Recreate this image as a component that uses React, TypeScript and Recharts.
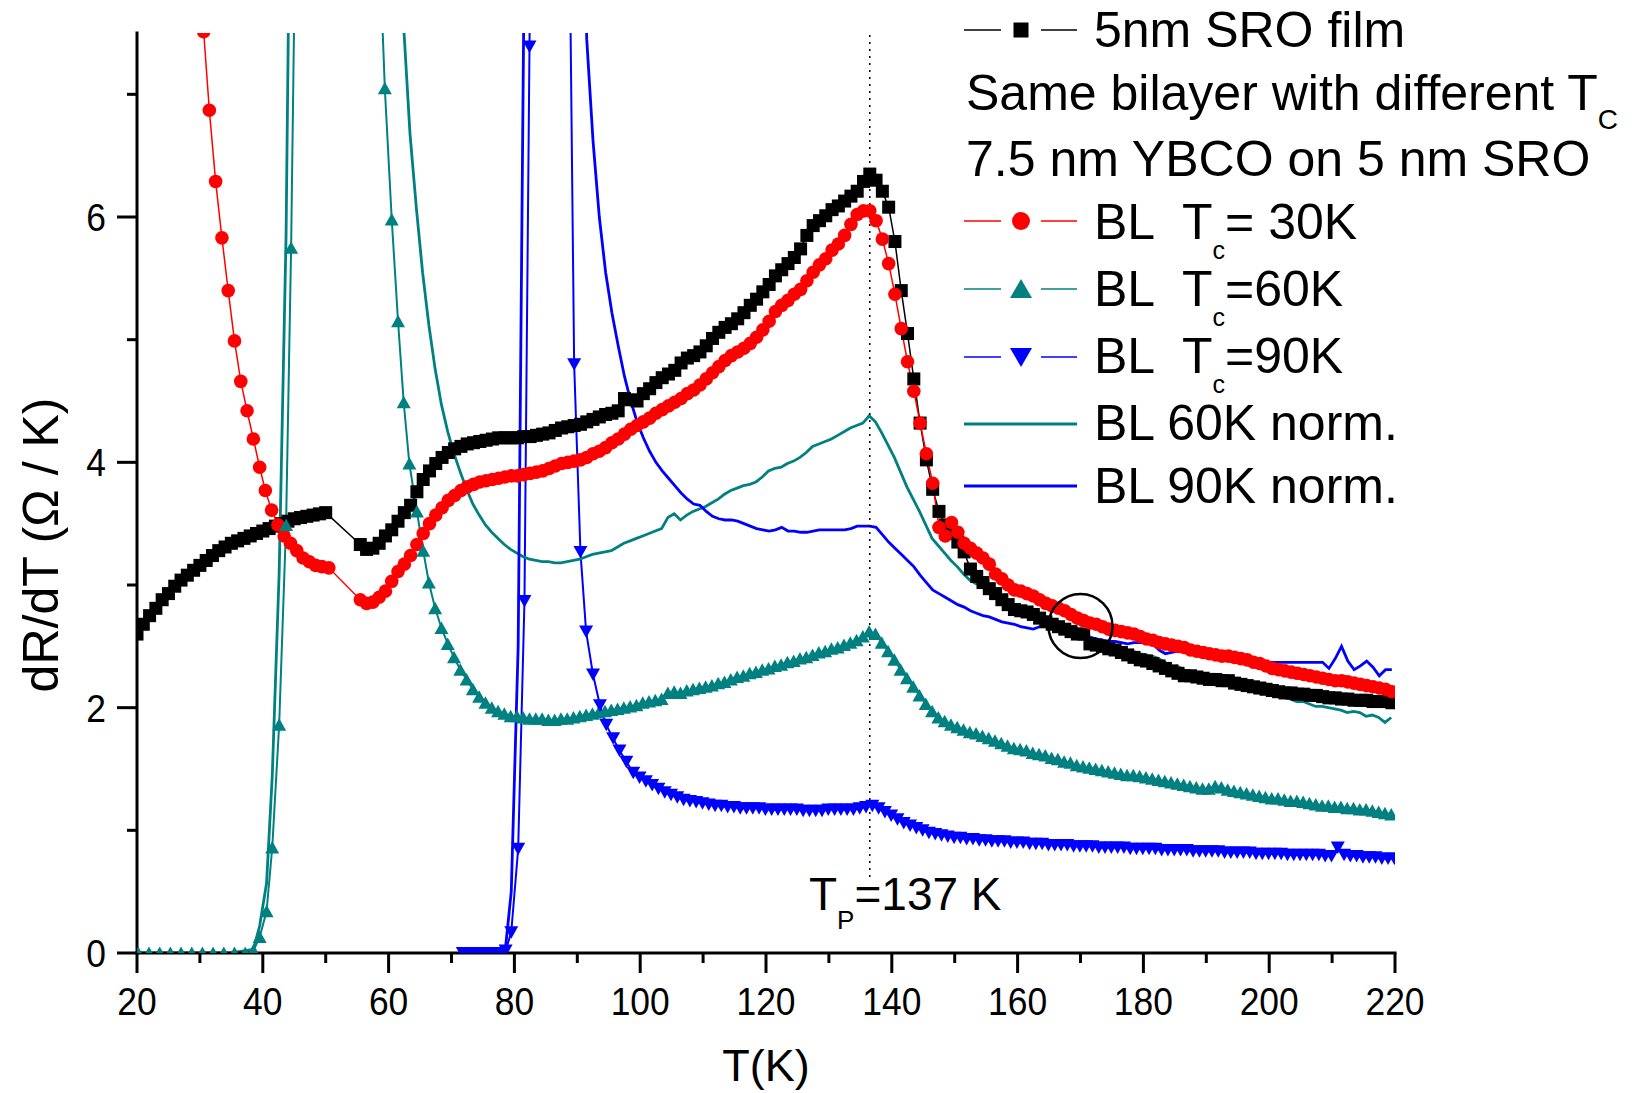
import React from 'react'
import { ComposedChart, Line, XAxis, YAxis, ReferenceLine, ReferenceDot } from 'recharts'

const FONT = "'Liberation Sans', Arial, Helvetica, sans-serif"

// axis ticks
const xTicks = [20, 30, 40, 50, 60, 70, 80, 90, 100, 110, 120, 130, 140, 150, 160, 170, 180, 190, 200, 210, 220]
const yTicks = [0, 1, 2, 3, 4, 5, 6, 7]

// 5nm SRO film (1 K steps)
const sroLowStart = 20
const sroLow = [
  2.6, 2.68, 2.75, 2.81, 2.88, 2.93, 2.99, 3.04, 3.08, 3.12,
  3.16, 3.2, 3.24, 3.28, 3.31, 3.34, 3.36, 3.38, 3.4, 3.42,
  3.44, 3.46, 3.48, 3.5, 3.52, 3.54, 3.55, 3.56, 3.57, 3.58, 3.59,
]
const sroHighStart = 55.5
const sroHigh = [
  3.33, 3.29, 3.3, 3.34, 3.4, 3.45, 3.52, 3.59, 3.65, 3.76,
  3.86, 3.93, 3.99, 4.04, 4.08, 4.11, 4.13, 4.15, 4.16, 4.17,
  4.18, 4.19, 4.2, 4.2, 4.2, 4.2, 4.21, 4.21, 4.22, 4.23,
  4.24, 4.26, 4.28, 4.29, 4.3, 4.31, 4.33, 4.35, 4.37, 4.39,
  4.4, 4.42, 4.52, 4.51, 4.5, 4.56, 4.6, 4.65, 4.69, 4.72,
  4.75, 4.81, 4.85, 4.87, 4.9, 4.95, 5.01, 5.06, 5.1, 5.13,
  5.17, 5.22, 5.28, 5.33, 5.39, 5.45, 5.52, 5.57, 5.62, 5.67,
  5.74, 5.85, 5.93, 5.97, 6.01, 6.06, 6.09, 6.13, 6.17, 6.21,
  6.29, 6.35, 6.3, 6.21, 6.08, 5.8, 5.4, 5.05, 4.68, 4.32,
  4.02, 3.78, 3.6, 3.49, 3.42, 3.35, 3.27, 3.13, 3.07, 3.02,
  2.97, 2.93, 2.88, 2.84, 2.8, 2.79, 2.78, 2.76, 2.73, 2.7,
  2.68, 2.66, 2.64, 2.62, 2.6, 2.6, 2.52, 2.51, 2.5, 2.48,
  2.47, 2.45, 2.43, 2.41, 2.39, 2.38, 2.36, 2.34, 2.32, 2.3,
  2.28, 2.26, 2.26, 2.25, 2.24, 2.23, 2.23, 2.22, 2.22, 2.2,
  2.19, 2.18, 2.17, 2.16, 2.15, 2.14, 2.13, 2.12, 2.12, 2.11,
  2.11, 2.1, 2.1, 2.09, 2.08, 2.08, 2.07, 2.07, 2.06, 2.06,
  2.06, 2.05, 2.05, 2.05, 2.04,
]

// BL Tc = 30K
const bl30LowT = [30.6, 31.5, 32.5, 33.5, 34.5, 35.5, 36.5, 37.5, 38.5, 39.5, 40.4, 41.4, 42.4, 43.4, 44.4, 45.4, 46.4, 47.4, 48.4, 49.4, 50.5]
const bl30Low = [7.51, 6.87, 6.29, 5.83, 5.4, 4.99, 4.66, 4.42, 4.19, 3.96, 3.77, 3.61, 3.49, 3.4, 3.34, 3.28, 3.22, 3.19, 3.16, 3.15, 3.14]
const bl30HighStart = 55.5
const bl30High = [
  2.88, 2.85, 2.86, 2.9, 2.95, 3.03, 3.11, 3.17, 3.24, 3.33,
  3.42, 3.5, 3.57, 3.63, 3.69, 3.73, 3.77, 3.8, 3.82, 3.84,
  3.85, 3.86, 3.87, 3.88, 3.89, 3.89, 3.9, 3.91, 3.92, 3.93,
  3.95, 3.97, 3.99, 4.0, 4.01, 4.02, 4.04, 4.07, 4.09, 4.12,
  4.16, 4.19, 4.23, 4.27, 4.3, 4.33, 4.36, 4.4, 4.43, 4.46,
  4.49, 4.52, 4.56, 4.59, 4.63, 4.68, 4.73, 4.78, 4.83, 4.87,
  4.9, 4.93, 4.97, 5.02, 5.08, 5.15, 5.23, 5.28, 5.32, 5.37,
  5.41, 5.48, 5.55, 5.61, 5.66, 5.73, 5.78, 5.85, 5.94, 6.02,
  6.05, 6.05, 5.97, 5.82, 5.62, 5.37, 5.09, 4.82, 4.58, 4.32,
  4.07, 3.83, 3.47, 3.4, 3.51, 3.43, 3.34, 3.3, 3.26, 3.22,
  3.17, 3.09, 3.05, 3.0, 2.96, 2.95, 2.93, 2.91, 2.88, 2.85,
  2.83, 2.81, 2.79, 2.76, 2.73, 2.71, 2.69, 2.68, 2.66, 2.64,
  2.63, 2.62, 2.61, 2.6, 2.58, 2.56, 2.55, 2.53, 2.52, 2.51,
  2.5, 2.49, 2.47, 2.46, 2.45, 2.44, 2.43, 2.42, 2.42, 2.41,
  2.4, 2.39, 2.37, 2.36, 2.34, 2.32, 2.31, 2.3, 2.29, 2.28,
  2.27, 2.26, 2.25, 2.24, 2.23, 2.22, 2.22, 2.21, 2.2, 2.19,
  2.18, 2.17, 2.16, 2.15, 2.13,
]

// BL Tc = 60K
const bl60LowT = [20.2, 21.9, 23.6, 25.3, 27, 28.7, 30.4, 32.1, 33.8, 35.5, 37.2, 38.5, 39.5, 40.6, 41.5, 42.6, 43.7, 44.5, 45.5, 58.4, 59.4, 60.5, 61.5, 62.4, 63.3, 64.5, 65.5, 66.4, 67.4, 68.4, 69.4]
const bl60Low = [0, 0, 0, 0, 0, 0, 0, 0, 0, 0, 0, 0.02, 0.13, 0.34, 0.86, 1.86, 3.49, 5.75, 9.6, 8.4, 7.05, 5.98, 5.15, 4.49, 3.99, 3.6, 3.28, 3.02, 2.81, 2.65, 2.52]
const bl60HighStart = 70.4
const bl60High = [
  2.41, 2.31, 2.23, 2.15, 2.09, 2.04, 2.0, 1.97, 1.95, 1.93,
  1.93, 1.92, 1.91, 1.91, 1.91, 1.9, 1.9, 1.91, 1.91, 1.92,
  1.93, 1.94, 1.95, 1.96, 1.97, 1.98, 1.99, 2.0, 2.01, 2.02,
  2.04, 2.05, 2.06, 2.07, 2.12, 2.13, 2.12, 2.14, 2.15, 2.16,
  2.17, 2.18, 2.2, 2.21, 2.23, 2.25, 2.26, 2.28, 2.29, 2.31,
  2.32, 2.34, 2.35, 2.37, 2.38, 2.4, 2.41, 2.43, 2.45, 2.46,
  2.48, 2.49, 2.51, 2.53, 2.55, 2.58, 2.62, 2.6, 2.53, 2.46,
  2.39, 2.31, 2.24, 2.17, 2.1, 2.03, 1.97, 1.92, 1.89, 1.86,
  1.84, 1.82, 1.8, 1.79, 1.77, 1.75, 1.73, 1.71, 1.69, 1.67,
  1.66, 1.65, 1.63, 1.62, 1.61, 1.59, 1.58, 1.56, 1.55, 1.53,
  1.52, 1.51, 1.5, 1.49, 1.48, 1.47, 1.46, 1.45, 1.45, 1.44,
  1.43, 1.42, 1.41, 1.4, 1.39, 1.38, 1.37, 1.36, 1.35, 1.34,
  1.34, 1.36, 1.35, 1.33, 1.32, 1.31, 1.3, 1.29, 1.28, 1.27,
  1.26, 1.26, 1.25, 1.24, 1.24, 1.23, 1.22, 1.21, 1.2, 1.2,
  1.19, 1.19, 1.18, 1.18, 1.17, 1.17, 1.16, 1.15, 1.14, 1.13,
]

// BL Tc = 90K
const bl90LowT = [71.8, 72.8, 73.8, 74.8, 75.8, 76.8, 77.8, 78.6, 79.5, 80.6, 81.6, 82.4, 83.4, 88.5, 89.5, 90.5, 91.4, 92.5, 93.6, 94.6, 95.7, 96.7, 97.8, 98.9]
const bl90Low = [0, 0, 0, 0, 0, 0, 0, 0.02, 0.17, 0.85, 2.87, 7.39, 14, 9.6, 4.8, 3.27, 2.62, 2.27, 2.02, 1.86, 1.75, 1.65, 1.56, 1.47]
const bl90HighStart = 99.9
const bl90High = [
  1.43, 1.4, 1.37, 1.34, 1.31, 1.29, 1.27, 1.25, 1.24, 1.23,
  1.22, 1.21, 1.2, 1.2, 1.19, 1.19, 1.18, 1.18, 1.18, 1.18,
  1.17, 1.17, 1.17, 1.17, 1.17, 1.17, 1.16, 1.16, 1.16, 1.16,
  1.17, 1.17, 1.17, 1.17, 1.17, 1.18, 1.19, 1.2, 1.18, 1.15,
  1.12, 1.09, 1.06, 1.04, 1.02, 1.0, 0.98, 0.97, 0.96, 0.95,
  0.94, 0.94, 0.93, 0.93, 0.92, 0.92, 0.91, 0.91, 0.91, 0.9,
  0.9, 0.9, 0.89, 0.89, 0.89, 0.88, 0.88, 0.88, 0.88, 0.87,
  0.87, 0.87, 0.87, 0.86, 0.86, 0.86, 0.86, 0.86, 0.85, 0.85,
  0.85, 0.85, 0.85, 0.84, 0.84, 0.84, 0.84, 0.84, 0.83, 0.83,
  0.83, 0.83, 0.83, 0.82, 0.82, 0.82, 0.82, 0.82, 0.81, 0.81,
  0.81, 0.81, 0.81, 0.8, 0.8, 0.8, 0.8, 0.8, 0.8, 0.79,
  0.79, 0.86, 0.8, 0.79, 0.79, 0.78, 0.78, 0.78, 0.77, 0.77,
  0.77,
]

// BL 60K norm.
const norm60LowT = [20.2, 25, 30, 35, 38.5, 39.5, 40.6, 41.5, 42.6, 43.7, 44.5, 61.5]
const norm60Low = [0, 0, 0, 0, 0.03, 0.22, 0.57, 1.44, 3.1, 5.85, 9.6, 8.65]
const norm60HighStart = 62.4
const norm60High = [
  7.55, 6.68, 6.08, 5.55, 5.12, 4.76, 4.47, 4.25, 4.07, 3.92,
  3.78, 3.66, 3.57, 3.49, 3.43, 3.38, 3.33, 3.29, 3.26, 3.23,
  3.21, 3.2, 3.19, 3.19, 3.18, 3.18, 3.19, 3.2, 3.21, 3.23,
  3.25, 3.26, 3.27, 3.28, 3.31, 3.34, 3.36, 3.38, 3.4, 3.42,
  3.44, 3.46, 3.55, 3.58, 3.53, 3.57, 3.6, 3.62, 3.64, 3.67,
  3.7, 3.74, 3.77, 3.79, 3.81, 3.82, 3.84, 3.88, 3.93, 3.95,
  3.96, 3.99, 4.01, 4.04, 4.08, 4.13, 4.15, 4.17, 4.19, 4.22,
  4.25, 4.28, 4.3, 4.32, 4.38, 4.33, 4.24, 4.14, 4.04, 3.92,
  3.8, 3.7, 3.6, 3.49, 3.38, 3.32, 3.26, 3.2, 3.15, 3.09,
  3.04, 3.01, 2.99, 2.97, 2.93, 2.89, 2.86, 2.84, 2.82, 2.8,
  2.78, 2.76, 2.74, 2.72, 2.7, 2.68, 2.65, 2.62, 2.6, 2.58,
  2.56, 2.54, 2.52, 2.51, 2.49, 2.47, 2.46, 2.44, 2.43, 2.42,
  2.4, 2.37, 2.33, 2.34, 2.31, 2.28, 2.26, 2.25, 2.24, 2.23,
  2.22, 2.21, 2.2, 2.19, 2.18, 2.16, 2.14, 2.13, 2.12, 2.11,
  2.09, 2.07, 2.05, 2.05, 2.03, 2.01, 2.01, 2.0, 1.99, 1.98,
  1.96, 1.97, 1.96, 1.93, 1.94, 1.92, 1.88, 1.92,
]

// BL 90K norm.
const norm90LowT = [71.8, 74, 76, 78.6, 79.5, 80.6, 81.6, 90.5]
const norm90Low = [0, 0, 0, 0.05, 0.5, 2.5, 8.3, 9.5]
const norm90HighStart = 91.5
const norm90High = [
  7.45, 6.62, 6.0, 5.55, 5.22, 4.95, 4.7, 4.5, 4.33, 4.2,
  4.09, 4.0, 3.93, 3.87, 3.81, 3.75, 3.7, 3.66, 3.65, 3.6,
  3.56, 3.54, 3.53, 3.53, 3.52, 3.5, 3.48, 3.46, 3.45, 3.44,
  3.45, 3.47, 3.44, 3.44, 3.43, 3.43, 3.44, 3.45, 3.45, 3.45,
  3.45, 3.45, 3.46, 3.48, 3.48, 3.48, 3.47, 3.41, 3.35, 3.3,
  3.25, 3.2, 3.15, 3.08, 3.02, 2.96, 2.93, 2.9, 2.87, 2.84,
  2.82, 2.79, 2.77, 2.75, 2.74, 2.72, 2.7, 2.69, 2.68, 2.66,
  2.65, 2.64, 2.66, 2.68, 2.67, 2.64, 2.62, 2.6, 2.59, 2.58,
  2.57, 2.56, 2.55, 2.54, 2.54, 2.53, 2.52, 2.53, 2.53, 2.53,
  2.52, 2.47, 2.44, 2.45, 2.46, 2.46, 2.45, 2.43, 2.42, 2.41,
  2.42, 2.43, 2.43, 2.43, 2.41, 2.4, 2.39, 2.38, 2.37, 2.37,
  2.37, 2.37, 2.37, 2.37, 2.37, 2.37, 2.37, 2.37, 2.32, 2.4,
  2.5, 2.38, 2.31, 2.34, 2.38, 2.33, 2.26, 2.31, 2.31,
]

const pairs = (xs: number[], ys: number[]) => xs.map((x, i) => ({ x, y: ys[i] }))
const steps = (start: number, ys: number[]) => ys.map((y, i) => ({ x: Math.round((start + i) * 10) / 10, y }))

const sroData = [...steps(sroLowStart, sroLow), ...steps(sroHighStart, sroHigh)]
const bl30Data = [...pairs(bl30LowT, bl30Low), ...steps(bl30HighStart, bl30High)]
const bl60Data = [...pairs(bl60LowT, bl60Low), ...steps(bl60HighStart, bl60High)]
const bl90Data = [...pairs(bl90LowT, bl90Low), ...steps(bl90HighStart, bl90High)]
const norm60Data = [...pairs(norm60LowT, norm60Low), ...steps(norm60HighStart, norm60High)]
const norm90Data = [...pairs(norm90LowT, norm90Low), ...steps(norm90HighStart, norm90High)]

const BLACK = '#000000'
const RED = '#ff0000'
const TEAL = '#008080'
const BLUE = '#0000ff'

const square = (p: any) => {
  if (p.cx == null || p.cy == null) return <g key={`sq${p.index}`} />
  return <rect key={`sq${p.index}`} x={p.cx - 6.5} y={p.cy - 6.5} width={13} height={13} fill={BLACK} />
}
const circle = (p: any) => {
  if (p.cx == null || p.cy == null) return <g key={`ci${p.index}`} />
  return <circle key={`ci${p.index}`} cx={p.cx} cy={p.cy} r={6.8} fill={RED} />
}
const triUp = (p: any) => {
  if (p.cx == null || p.cy == null) return <g key={`tu${p.index}`} />
  const { cx, cy } = p
  return <path key={`tu${p.index}`} d={`M${cx},${cy - 6.5} L${cx + 7},${cy + 6} L${cx - 7},${cy + 6} Z`} fill={TEAL} />
}
const triDown = (p: any) => {
  if (p.cx == null || p.cy == null) return <g key={`td${p.index}`} />
  const { cx, cy } = p
  return <path key={`td${p.index}`} d={`M${cx},${cy + 6.5} L${cx + 7},${cy - 6} L${cx - 7},${cy - 6} Z`} fill={BLUE} />
}

const XTick = (props: any) => {
  const { x, y, payload } = props
  const major = payload.value % 20 === 0
  const label = String(payload.value)
  return (
    <g>
      <line x1={x} y1={y} x2={x} y2={y + (major ? 20 : 10)} stroke={BLACK} strokeWidth={3} />
      {major && (
        <text
          x={x}
          y={y + 62}
          textAnchor="middle"
          fontSize={38.5}
          fontFamily={FONT}
          fill={BLACK}
          textLength={label.length * 19.7}
          lengthAdjust="spacingAndGlyphs"
        >
          {label}
        </text>
      )}
    </g>
  )
}

const YTick = (props: any) => {
  const { x, y, payload } = props
  const major = payload.value % 2 === 0
  return (
    <g>
      <line x1={x - (major ? 20 : 10)} y1={y} x2={x} y2={y} stroke={BLACK} strokeWidth={3} />
      {major && (
        <text
          x={x - 31}
          y={y + 14}
          textAnchor="end"
          fontSize={38.5}
          fontFamily={FONT}
          fill={BLACK}
          textLength={19.7}
          lengthAdjust="spacingAndGlyphs"
        >
          {payload.value}
        </text>
      )}
    </g>
  )
}

function LegendOverlay() {
  const lx1 = 964
  const lx2 = 1077
  const mx = 1021
  const tx = 1094
  const seg = (y: number, color: string, w: number) => (
    <g>
      <line x1={lx1} y1={y} x2={1001} y2={y} stroke={color} strokeWidth={w} />
      <line x1={1041} y1={y} x2={lx2} y2={y} stroke={color} strokeWidth={w} />
    </g>
  )
  return (
    <svg width={1641} height={1093} style={{ position: 'absolute', left: 0, top: 0, pointerEvents: 'none' }}>
      <g fontFamily={FONT} fill={BLACK}>
        {seg(30, BLACK, 1.5)}
        <rect x={mx - 7.5} y={30 - 7.5} width={15} height={15} fill={BLACK} />
        <text x={tx} y={47} fontSize={50}>5nm SRO film</text>

        <text x={966} y={110} fontSize={50}>
          Same bilayer with different T<tspan fontSize={28} dy={19}>C</tspan>
        </text>
        <text x={966} y={176} fontSize={50}>7.5 nm YBCO on 5 nm SRO</text>

        {seg(221, RED, 1.5)}
        <circle cx={mx} cy={221} r={9} fill={RED} />
        <text x={tx} y={239} fontSize={50}>BL</text>
        <text x={1182} y={239} fontSize={50}>
          T<tspan fontSize={25} dy={20}>c</tspan>
          <tspan dy={-20}>= 30K</tspan>
        </text>

        {seg(289, TEAL, 1.5)}
        <path d={`M${mx},${289 - 10} L${mx + 11},${289 + 9} L${mx - 11},${289 + 9} Z`} fill={TEAL} />
        <text x={tx} y={306} fontSize={50}>BL</text>
        <text x={1182} y={306} fontSize={50}>
          T<tspan fontSize={25} dy={20}>c</tspan>
          <tspan dy={-20}>=60K</tspan>
        </text>

        {seg(357, BLUE, 1.5)}
        <path d={`M${mx},${357 + 10} L${mx + 11},${357 - 9} L${mx - 11},${357 - 9} Z`} fill={BLUE} />
        <text x={tx} y={373} fontSize={50}>BL</text>
        <text x={1182} y={373} fontSize={50}>
          T<tspan fontSize={25} dy={20}>c</tspan>
          <tspan dy={-20}>=90K</tspan>
        </text>

        <line x1={lx1} y1={424} x2={lx2} y2={424} stroke={TEAL} strokeWidth={3} />
        <text x={tx} y={440} fontSize={50}>BL 60K norm.</text>

        <line x1={lx1} y1={486} x2={lx2} y2={486} stroke={BLUE} strokeWidth={3} />
        <text x={tx} y={503} fontSize={50}>BL 90K norm.</text>

        <text x={766} y={1081} fontSize={45} textAnchor="middle">T(K)</text>
        <text x={58} y={545} fontSize={50} textAnchor="middle" transform="rotate(-90 58 545)">
          dR/dT (Ω / K)
        </text>

        <text x={809} y={910} fontSize={46}>
          T<tspan fontSize={26} dy={19}>P</tspan>
          <tspan dy={-19}>=137 K</tspan>
        </text>
      </g>
    </svg>
  )
}

export default function App() {
  return (
    <div style={{ position: 'absolute', left: 0, top: 0, width: 1641, height: 1093, background: '#fff', fontFamily: FONT }}>
      <ComposedChart width={1641} height={1093} margin={{ top: 33, right: 246, bottom: 40, left: 0 }}>
        <XAxis
          type="number"
          dataKey="x"
          domain={[20, 220]}
          ticks={xTicks}
          interval={0}
          allowDataOverflow
          height={100}
          tickSize={0}
          tickMargin={0}
          tickLine={false}
          tick={XTick}
          axisLine={{ stroke: BLACK, strokeWidth: 3, strokeLinecap: 'square' }}
        />
        <YAxis
          type="number"
          domain={[0, 7.5]}
          ticks={yTicks}
          interval={0}
          allowDataOverflow
          width={137}
          tickSize={0}
          tickMargin={0}
          tickLine={false}
          tick={YTick}
          axisLine={{ stroke: BLACK, strokeWidth: 3, strokeLinecap: 'square' }}
        />
        <Line data={sroData} dataKey="y" type="linear" stroke={BLACK} strokeWidth={1.5} dot={square} activeDot={false} isAnimationActive={false} />
        <Line data={bl30Data} dataKey="y" type="linear" stroke={RED} strokeWidth={1.5} dot={circle} activeDot={false} isAnimationActive={false} />
        <Line data={bl60Data} dataKey="y" type="linear" stroke={TEAL} strokeWidth={2} dot={triUp} activeDot={false} isAnimationActive={false} />
        <Line data={bl90Data} dataKey="y" type="linear" stroke={BLUE} strokeWidth={2} dot={triDown} activeDot={false} isAnimationActive={false} />
        <Line data={norm60Data} dataKey="y" type="linear" stroke={TEAL} strokeWidth={2.8} dot={false} activeDot={false} isAnimationActive={false} />
        <Line data={norm90Data} dataKey="y" type="linear" stroke={BLUE} strokeWidth={2.8} dot={false} activeDot={false} isAnimationActive={false} />
        <ReferenceLine
          segment={[{ x: 136.5, y: 0.62 }, { x: 136.5, y: 7.5 }]}
          stroke={BLACK}
          strokeWidth={1.5}
          strokeDasharray="2 5"
        />
        <ReferenceDot x={170} y={2.665} r={32} fill="none" stroke={BLACK} strokeWidth={2.5} />
      </ComposedChart>
      <LegendOverlay />
    </div>
  )
}
